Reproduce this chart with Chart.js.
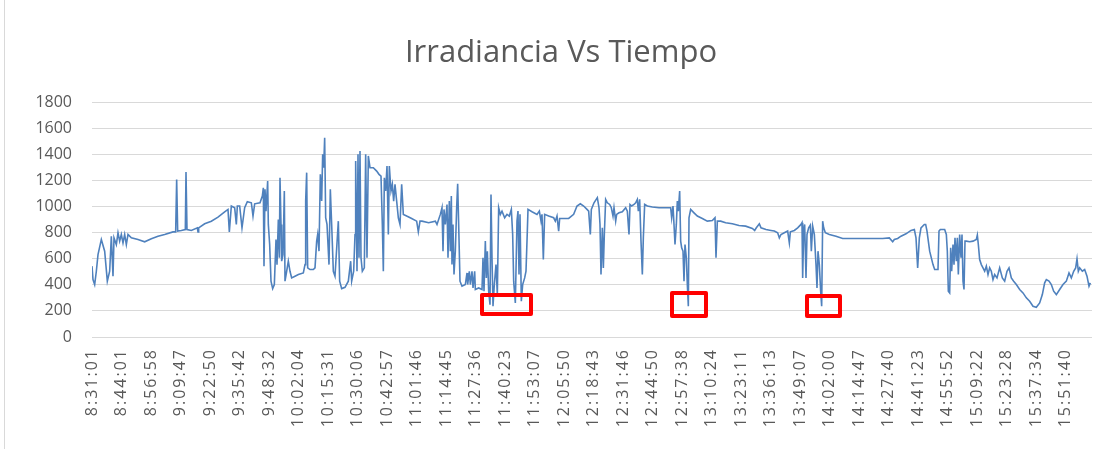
<!DOCTYPE html>
<html>
<head>
<meta charset="utf-8">
<script src="https://cdn.jsdelivr.net/npm/chart.js@4"></script>
<style>
  html, body { margin: 0; padding: 0; background: #fff; }
  #marco { position: relative; width: 1107px; height: 449px; }
  #marco::before { content: ""; position: absolute; left: 4px; top: 0; bottom: 0; border-left: 1px solid #d9d9d9; }
  canvas { display: block; }
</style>
</head>
<body>
<div id="marco"><canvas id="grafico" width="1107" height="449"></canvas></div>
<script>
// etiquetas del eje X (una cada PASO_ETIQUETA muestras)
const etiquetasTiempo = ['8:31:01','8:44:01','8:56:58','9:09:47','9:22:50','9:35:42','9:48:32','10:02:04','10:15:31','10:30:06','10:42:57','11:01:46','11:14:45','11:27:36','11:40:23','11:53:07','12:05:50','12:18:43','12:31:46','12:44:50','12:57:38','13:10:24','13:23:11','13:36:13','13:49:07','14:02:00','14:14:47','14:27:40','14:41:23','14:55:52','15:09:22','15:23:28','15:37:34','15:51:40'];
const PASO_ETIQUETA = 88.5;
const TOTAL_MUESTRAS = 3000;
const ticksY = [0, 200, 400, 600, 800, 1000, 1200, 1400, 1600, 1800];

// [muestra, irradiancia W/m2]
const lecturas = [
  [0,543],[3,440],[8,402],[13,504],[18,632],[28,748],[38,658],[46,428],[53,504],[58,773],[63,466],[66,760],
  [73,709],[78,799],[83,735],[88,786],[93,722],[98,786],[103,709],[108,786],[118,760],[138,748],[158,730],
  [178,753],[198,773],[218,786],[243,806],[251,806],[254,1208],[257,812],[268,817],[280,824],[282,1265],
  [285,824],[298,817],[316,837],[318,806],[320,837],[338,868],[358,888],[378,919],[398,960],[408,978],
  [412,806],[418,1004],[428,991],[433,863],[436,1004],[443,1004],[450,837],[458,991],[466,1037],[478,1029],
  [483,927],[488,1021],
  [504,1029],[511,1080],[514,1144],[516,543],[519,1132],[522,965],[527,1196],[529,863],[533,709],[537,428],
  [542,371],[547,402],[552,748],[555,555],[559,901],[562,607],[564,1221],[567,863],[569,581],[573,632],
  [577,1119],[579,428],[584,504],[589,581],[594,504],[599,453],[609,466],[619,479],[634,491],[639,555],
  [641,1042],[644,1260],[647,530],[654,517],[664,517],[669,530],[674,735],[677,786],[681,658],[685,1247],
  [689,1042],[692,1400],[695,1298],[698,1528],[701,914],[705,863],[711,555],[715,1132],[719,863],[724,504],
  [729,466],[739,888],[743,428],[749,371],[759,381],[769,428],[776,581],[779,428],[785,504],[789,786],
  [791,1349],[795,504],[798,1400],[801,607],[804,1426],[807,607],[811,504],[817,530],[821,1400],[825,607],
  [829,1388],[834,1298],[844,1298],[854,1272],[861,1247],[867,1234],[871,863],[874,504],[877,1221],
  [881,1119],[885,1311],[889,786],[892,1311],[897,1119],[901,1170],[905,1042],[909,1170],[914,1042],
  [919,914],[924,863],[929,1170],[934,940],[944,927],[959,909],[974,888],[979,806],[984,888],
  [990,888],[1010,876],[1030,888],[1035,863],[1045,940],[1050,991],[1053,658],[1056,978],[1060,863],
  [1065,1016],[1068,607],[1072,1042],[1075,658],[1078,1080],[1080,555],[1083,863],[1086,479],[1090,658],
  [1094,991],[1097,1175],[1100,863],[1104,428],[1110,389],[1120,402],[1125,491],[1127,402],[1132,504],
  [1135,402],[1140,504],[1143,376],[1148,504],[1150,364],[1160,376],[1170,364],[1173,607],[1176,351],
  [1180,735],[1183,453],[1186,658],[1190,351],[1194,248],[1197,1093],[1200,607],[1203,236],[1207,402],
  [1212,555],[1216,325],[1220,991],[1225,940],[1230,965],[1238,914],[1245,940],[1252,927],[1258,978],
  [1262,786],[1265,428],[1270,261],[1275,888],[1278,965],[1281,479],[1284,940],[1288,274],[1292,402],
  [1298,453],[1302,504],[1306,812],[1308,978],[1320,960],[1335,940],[1342,965],[1347,888],[1350,940],
  [1354,594],[1358,940],[1370,927],[1385,914],[1390,888],[1395,927],[1400,812],[1403,909],[1430,909],
  [1445,940],[1455,1004],[1465,1021],[1475,1004],[1485,978],[1490,965],[1495,786],[1498,978],
  [1506,1029],[1516,1068],[1521,991],[1524,863],[1527,479],[1531,837],[1534,530],[1537,786],[1541,1055],
  [1546,1029],[1553,1016],[1558,991],[1563,927],[1566,991],[1571,888],[1574,940],[1581,952],[1591,960],
  [1601,991],[1606,965],[1611,786],[1614,1016],[1619,1004],[1626,1016],[1631,1029],[1636,1055],[1639,965],
  [1643,1055],[1647,735],[1651,479],[1654,760],[1658,1016],[1666,1004],[1681,996],[1701,991],[1721,991],
  [1736,991],[1739,914],[1743,1004],[1746,863],[1749,709],[1753,863],[1756,1042],[1759,965],[1763,1119],
  [1766,735],[1769,684],[1773,658],[1776,428],[1779,709],[1783,607],[1786,402],[1789,236],[1791,914],
  [1796,978],[1806,952],[1816,927],[1831,909],[1846,888],[1861,893],[1869,914],[1872,607],[1876,888],
  [1886,888],[1901,876],[1921,868],[1941,855],[1961,850],[1981,832],[1988,817],[1993,837],
  [2002,868],[2007,837],[2022,824],[2037,817],[2047,812],[2057,799],[2062,760],[2067,786],[2077,799],
  [2087,812],[2092,722],[2095,806],[2107,817],[2117,837],[2127,863],[2130,876],[2132,453],[2135,812],
  [2138,863],[2142,453],[2145,786],[2150,837],[2155,858],[2158,658],[2162,850],[2167,786],[2172,555],
  [2175,376],[2178,658],[2182,555],[2186,351],[2189,236],[2192,888],[2195,837],[2200,799],[2212,786],
  [2232,773],[2252,755],[2292,755],[2332,755],[2372,755],[2392,760],[2402,730],[2407,748],[2417,755],
  [2427,773],[2442,791],[2457,817],[2467,824],[2472,760],[2477,530],[2482,760],[2487,837],[2497,863],
  [2501,863],[2505,812],[2513,658],[2523,555],[2528,517],[2538,517],[2541,812],[2545,824],[2558,824],
  [2563,786],[2566,658],[2569,351],[2573,338],[2576,684],[2579,504],[2583,709],[2586,555],[2589,760],
  [2593,581],[2596,760],[2599,479],[2603,786],[2607,607],[2610,786],[2613,428],[2616,364],[2619,735],
  [2623,735],[2633,730],[2643,735],[2653,748],[2656,781],[2659,709],[2663,594],[2668,555],[2673,530],
  [2678,504],[2683,543],[2688,479],[2693,530],[2698,504],[2703,440],[2708,479],[2715,453],[2723,530],
  [2731,453],[2738,428],[2745,504],[2751,530],[2758,453],[2765,428],[2773,402],[2783,364],[2793,338],
  [2803,300],[2813,274],[2823,236],[2833,228],[2843,261],[2851,325],[2858,415],[2863,440],[2871,428],
  [2878,402],[2885,351],[2893,325],[2903,364],[2913,402],[2923,428],[2931,491],[2938,453],[2945,504],
  [2951,530],[2955,599],[2959,504],[2963,530],[2971,504],[2978,517],[2985,466],[2991,389],[2995,415]
];

// recuadros rojos marcados sobre los mínimos
const recuadros = [
  { desde: 1170, hasta: 1317, min: 176, max: 322 },
  { desde: 1740, hasta: 1842, min: 161, max: 337 },
  { desde: 2145, hasta: 2244, min: 161, max: 314 }
];

const GRIS = '#595959';
const FUENTE = "'Open Sans', 'Liberation Sans', sans-serif";

// recuadros + espaciado de letras para las etiquetas de tiempo (se dibujan despues de la serie)
const pluginRecuadros = {
  id: 'recuadros',
  afterDatasetsDraw(chart) {
    const { ctx, scales: { x, y } } = chart;
    ctx.save();
    ctx.strokeStyle = '#ff0000';
    ctx.lineWidth = 4;
    ctx.lineJoin = 'round';
    recuadros.forEach(r => {
      const x1 = x.getPixelForValue(r.desde), x2 = x.getPixelForValue(r.hasta);
      const y1 = y.getPixelForValue(r.max), y2 = y.getPixelForValue(r.min);
      ctx.strokeRect(x1, y1, x2 - x1, y2 - y1);
    });
    ctx.restore();
    ctx.letterSpacing = '2px';
  },
  afterDraw(chart) {
    chart.ctx.letterSpacing = '0px';
  }
};

new Chart(document.getElementById('grafico'), {
  type: 'line',
  data: {
    datasets: [{
      data: lecturas.map(([m, v]) => ({ x: m, y: v })),
      borderColor: '#4f81bd',
      borderWidth: 1.6,
      pointRadius: 0,
      tension: 0,
      fill: false
    }]
  },
  options: {
    responsive: false,
    animation: false,
    layout: { padding: { top: 8, right: 15, bottom: 0, left: 30 } },
    plugins: {
      legend: { display: false },
      tooltip: { enabled: false },
      title: {
        display: true,
        text: 'Irradiancia Vs Tiempo',
        color: GRIS,
        font: { family: FUENTE, size: 31, weight: 'normal' },
        padding: { top: 27, bottom: 30 }
      }
    },
    scales: {
      x: {
        type: 'linear',
        min: 0,
        max: TOTAL_MUESTRAS,
        afterBuildTicks: s => { s.ticks = etiquetasTiempo.map((_, i) => ({ value: i * PASO_ETIQUETA })); },
        afterFit: s => { s.height = 112; },
        grid: { display: false, drawTicks: false },
        border: { display: false },
        ticks: {
          z: 1,
          autoSkip: false,
          maxRotation: 90,
          minRotation: 90,
          padding: 11,
          color: GRIS,
          font: { family: FUENTE, size: 16 },
          callback: (v, i) => etiquetasTiempo[i]
        }
      },
      y: {
        min: 0,
        max: 1800,
        afterBuildTicks: s => { s.ticks = ticksY.map(v => ({ value: v })); },
        afterFit: s => { s.width = 62; },
        grid: { color: '#d9d9d9', lineWidth: 1, drawTicks: false },
        border: { display: false },
        ticks: {
          padding: 20,
          color: GRIS,
          font: { family: FUENTE, size: 16 },
          callback: v => String(v)
        }
      }
    }
  },
  plugins: [pluginRecuadros]
});
</script>
</body>
</html>
